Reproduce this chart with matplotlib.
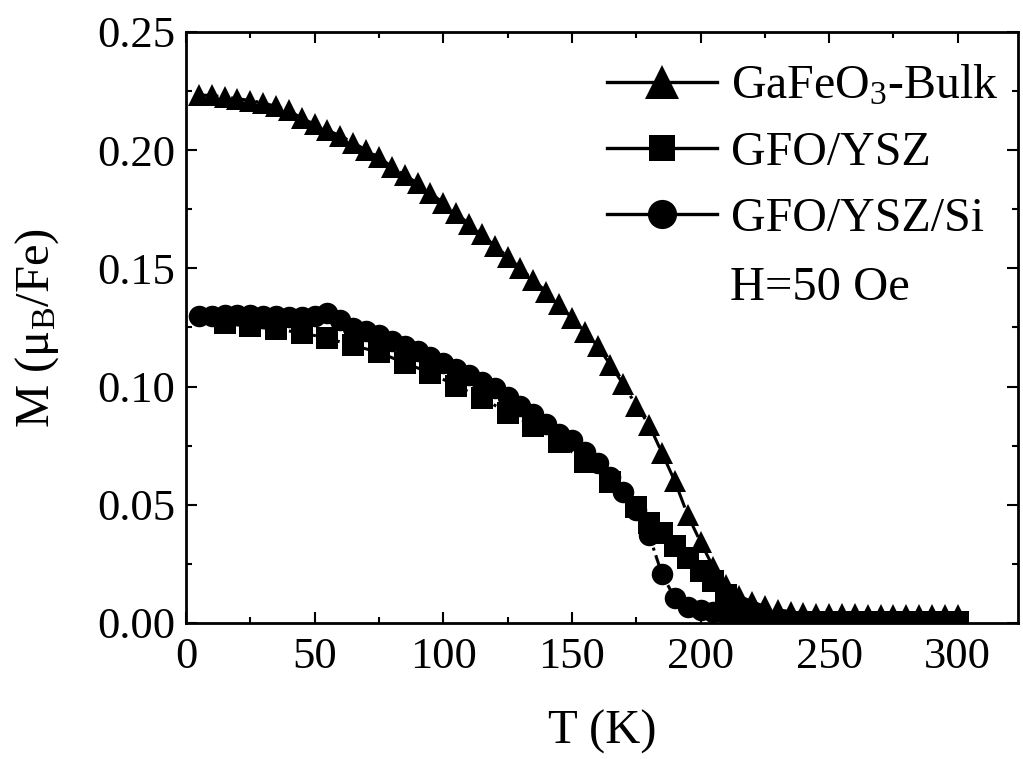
import matplotlib
matplotlib.use("Agg")
import matplotlib.pyplot as plt
from matplotlib.lines import Line2D
from matplotlib.ticker import MultipleLocator, FormatStrFormatter

# ---- data ----
T_bulk = list(range(5, 305, 5))
M_bulk = [0.2233, 0.2232, 0.2225, 0.2218, 0.2210, 0.2200, 0.2185, 0.2168, 0.2135, 0.2110,
          0.2085, 0.2060, 0.2032, 0.2000, 0.1970, 0.1930, 0.1895, 0.1860, 0.1818, 0.1778,
          0.1733, 0.1688, 0.1644, 0.1596, 0.1550, 0.1500, 0.1451, 0.1402, 0.1348, 0.1289,
          0.1232, 0.1172, 0.1091, 0.1010, 0.0920, 0.0838, 0.0720, 0.0600, 0.0457, 0.0342,
          0.0235, 0.0160, 0.0114, 0.0090, 0.0070, 0.0056, 0.0048, 0.0044, 0.0040, 0.0038,
          0.0037, 0.0036, 0.0035, 0.0035, 0.0034, 0.0034, 0.0033, 0.0033, 0.0032, 0.0032]

T_ysz = list(range(15, 180, 10)) + list(range(180, 305, 5))
M_ysz = [0.1268, 0.1255, 0.1242, 0.1228, 0.1204, 0.1174, 0.1145, 0.1100, 0.1058, 0.1003,
         0.0952, 0.0890, 0.0835, 0.0766, 0.0682, 0.0598, 0.0490,
         0.0425, 0.0380, 0.0325, 0.0275, 0.0222, 0.0178, 0.0120, 0.0050, 0.0020,
         0.0003, 0.0003, 0.0003, 0.0003, 0.0003, 0.0003, 0.0003, 0.0003,
         0.0003, 0.0003, 0.0003, 0.0003, 0.0003, 0.0003, 0.0003, 0.0003]

T_si = list(range(5, 220, 5))
M_si = [0.1300, 0.1300, 0.1302, 0.1302, 0.1302, 0.1300, 0.1298, 0.1295, 0.1293, 0.1298,
        0.1310, 0.1280, 0.1250, 0.1235, 0.1218, 0.1195, 0.1170, 0.1150, 0.1125, 0.1100,
        0.1074, 0.1050, 0.1020, 0.0994, 0.0956, 0.0920, 0.0882, 0.0840, 0.0800, 0.0772,
        0.0725, 0.0677, 0.0618, 0.0554, 0.0478, 0.0372, 0.0207, 0.0105, 0.0069, 0.0055,
        0.0048, 0.0040, 0.0035]

labels = [r"GaFeO$_3$-Bulk", "GFO/YSZ", "GFO/YSZ/Si"]
markers = ["^", "s", "o"]
field_text = "H=50 Oe"
xlabel = "T (K)"
ylabel = r"M (μ$_\mathregular{B}$/Fe)"

# ---- style ----
plt.rcParams["font.family"] = ["Liberation Serif", "DejaVu Serif"]
plt.rcParams["mathtext.fontset"] = "custom"
plt.rcParams["mathtext.rm"] = "Liberation Serif"
plt.rcParams["mathtext.it"] = "Liberation Serif:italic"
plt.rcParams["mathtext.default"] = "regular"

fig = plt.figure(figsize=(10.23, 7.59), dpi=100)
ax = fig.add_axes([186/1023, 1-623/759, (1018-186)/1023, (623-32)/759])

ms = 15.5
lw = 2.2
series = [(T_bulk, M_bulk), (T_ysz, M_ysz), (T_si, M_si)]
for (t, m), mk in zip(series, markers):
    ax.plot(t, m, linestyle="-.", color="black", lw=lw, marker=mk,
            markersize=ms, markerfacecolor="black", markeredgecolor="black", markeredgewidth=0)

ax.set_xlim(0, 323.4)
ax.set_ylim(0, 0.25)
ax.xaxis.set_major_locator(MultipleLocator(50))
ax.xaxis.set_minor_locator(MultipleLocator(25))
ax.yaxis.set_major_locator(MultipleLocator(0.05))
ax.yaxis.set_minor_locator(MultipleLocator(0.025))
ax.yaxis.set_major_formatter(FormatStrFormatter("%.2f"))

for s in ax.spines.values():
    s.set_linewidth(2.0)
ax.tick_params(which="both", direction="in", top=True, right=True, width=1.5)
ax.tick_params(which="major", length=8, labelsize=32)
ax.tick_params(which="minor", length=4.5)
ax.tick_params(axis="x", which="major", pad=10)
ax.tick_params(axis="y", which="major", pad=8)

ax.set_xlabel(xlabel, fontsize=35, labelpad=24)
ax.set_ylabel(ylabel, fontsize=35, labelpad=26)

handles = [Line2D([0], [0], color="black", lw=2.4, marker=mk, markersize=sz,
                  markerfacecolor="black", markeredgewidth=0)
           for mk, sz in zip(markers, [24, 19, 21])]
leg = ax.legend(handles, labels, loc="upper left", bbox_to_anchor=(607/1023, 1-64/759),
                bbox_transform=fig.transFigure, frameon=False, fontsize=34.5,
                handlelength=2.3, handletextpad=0.29, labelspacing=0.46,
                borderpad=0, borderaxespad=0)

fig.text(730/1023, 1-288/759, field_text, fontsize=35, ha="left", va="center")

fig.savefig("out.png", dpi=100)
